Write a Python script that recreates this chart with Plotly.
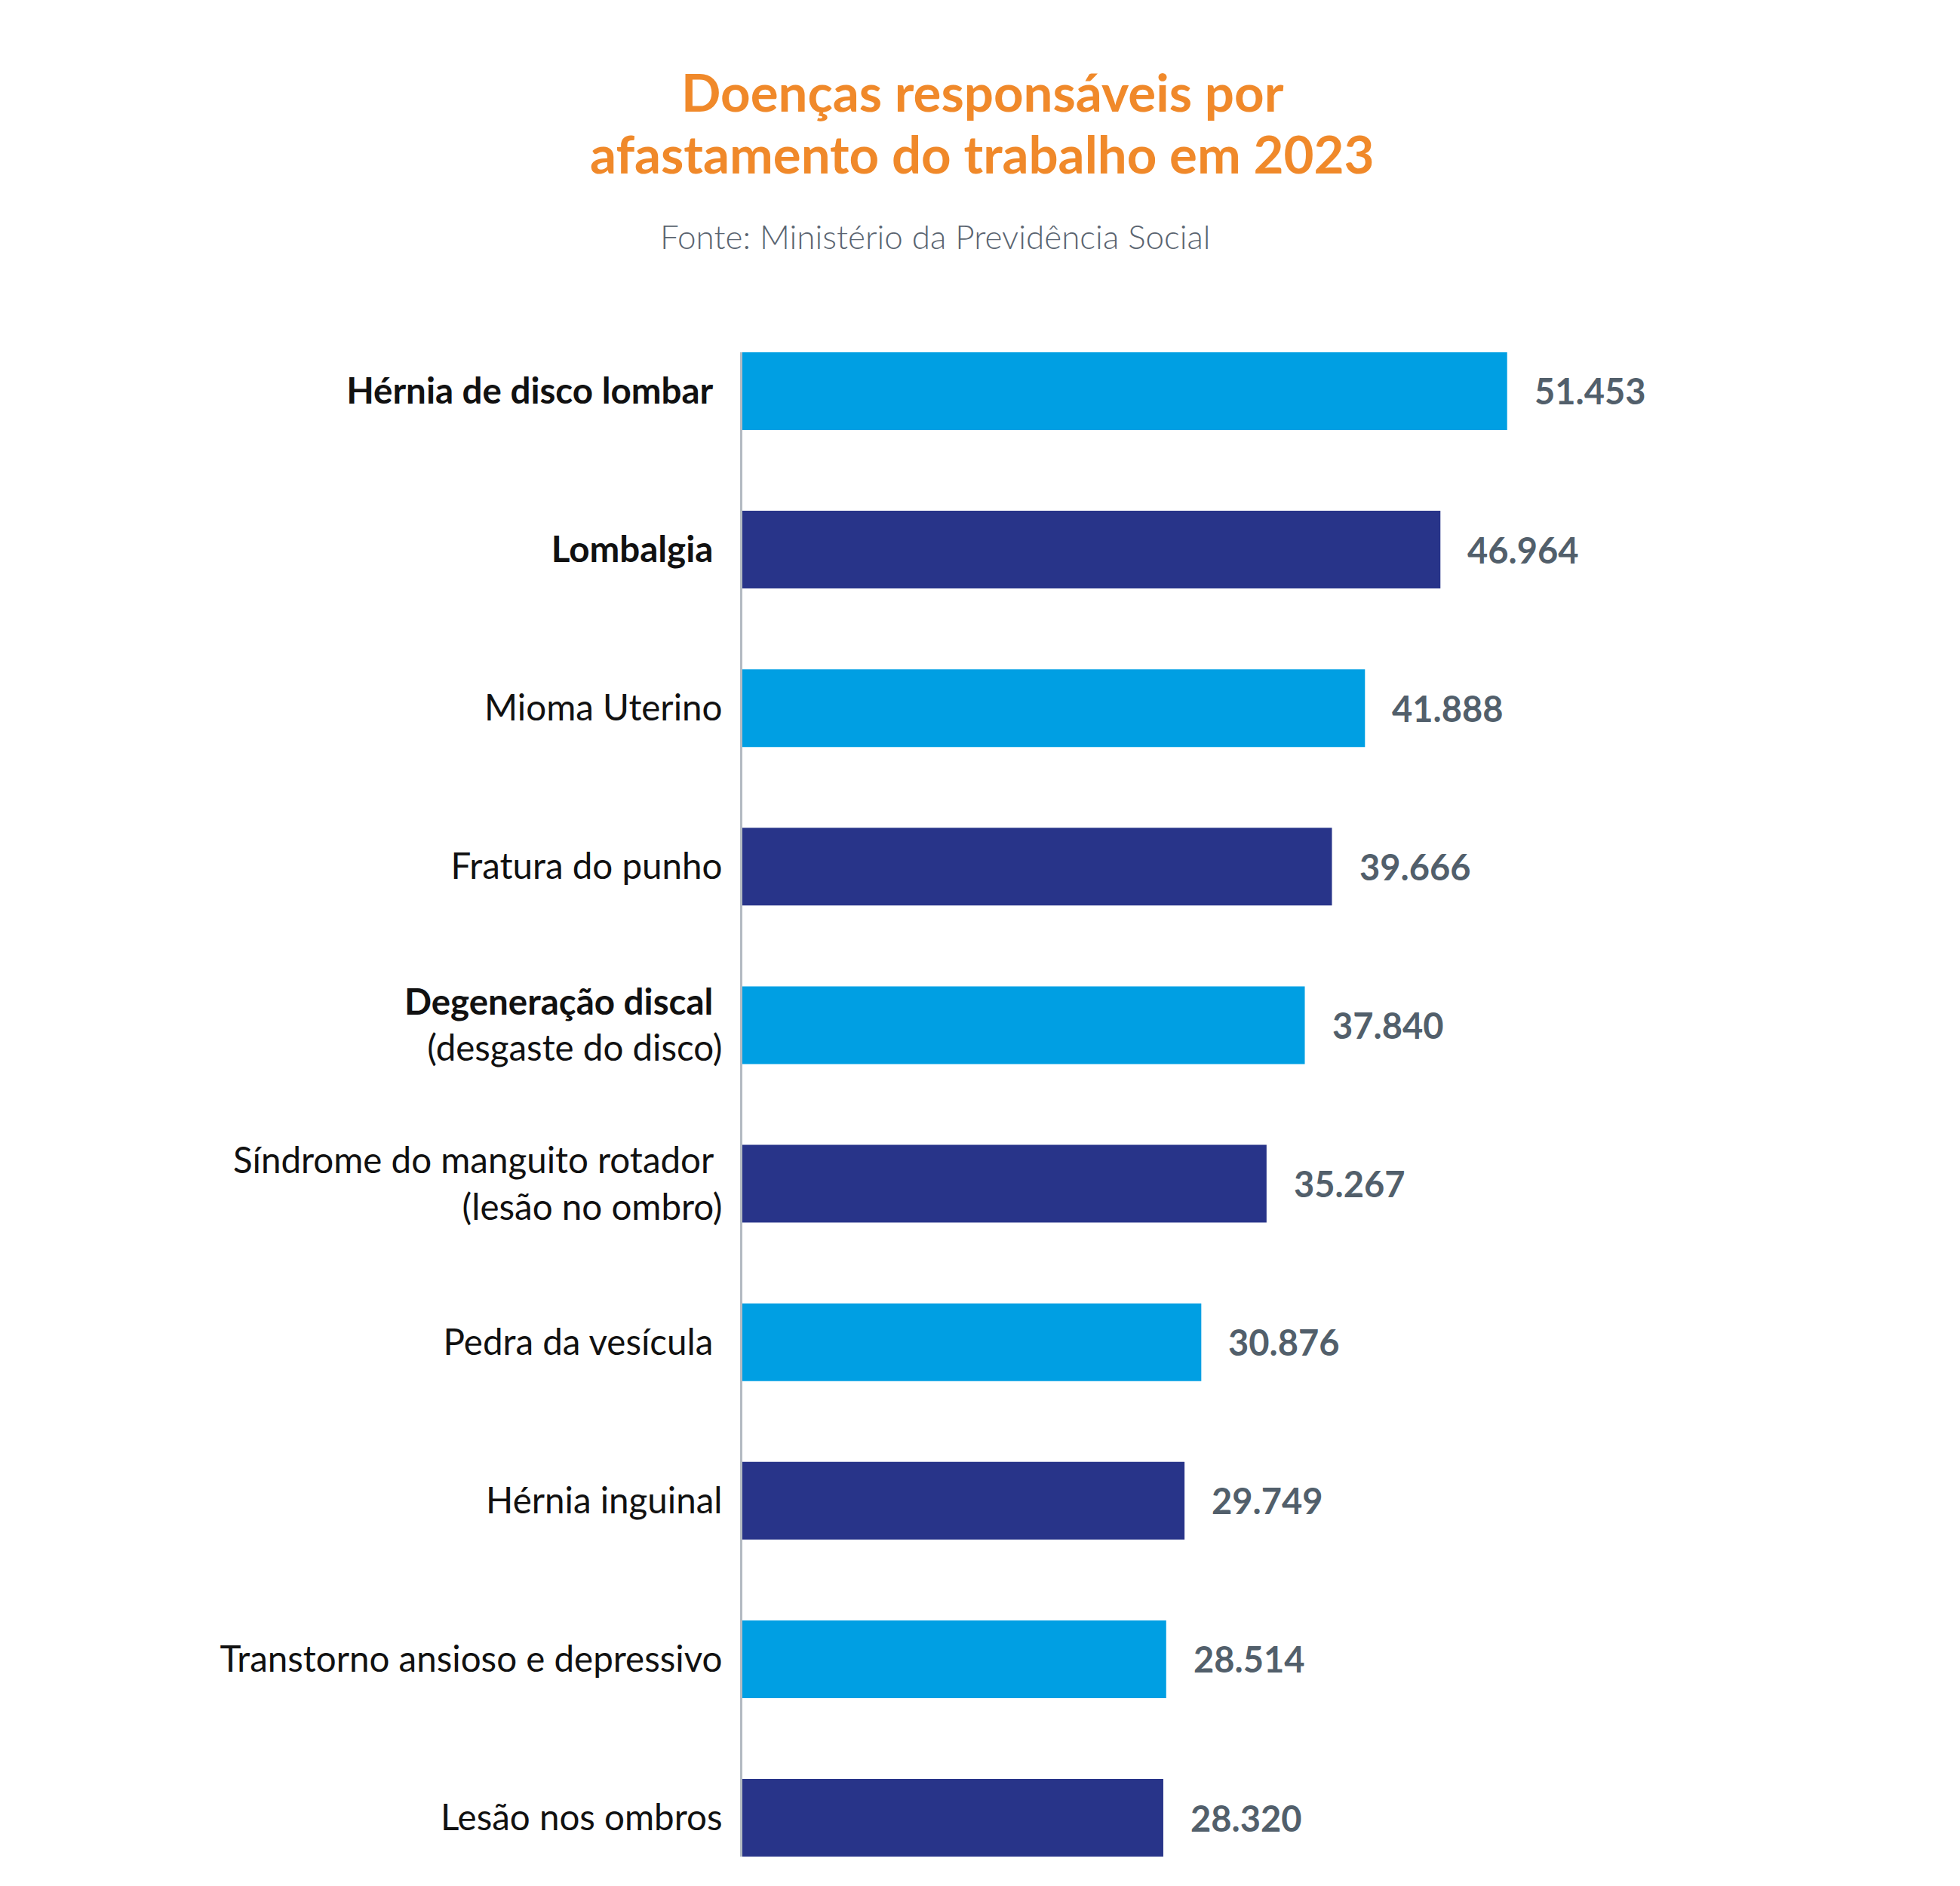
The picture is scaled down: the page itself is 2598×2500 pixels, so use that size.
import plotly.graph_objects as go

categories = [
    "<b>Hérnia de disco lombar</b>\u00a0",
    "<b>Lombalgia</b>\u00a0",
    "Mioma Uterino",
    "Fratura do punho",
    "<b>Degeneração discal</b>\u00a0<br>(desgaste do disco)",
    "Síndrome do manguito rotador\u00a0<br>(lesão no ombro)",
    "Pedra da vesícula\u00a0",
    "Hérnia inguinal",
    "Transtorno ansioso e depressivo",
    "Lesão nos ombros",
]
values = [51453, 46964, 41888, 39666, 37840, 35267, 30876, 29749, 28514, 28320]
bar_colors = ["#009FE3", "#283489"] * 5

title_lines = ["Doenças responsáveis por", "afastamento do trabalho em 2023"]
subtitle_text = "Fonte: Ministério da Previdência Social"

W, H = 2598, 2500
OFF = 8  # default page body margin
ML, MR, MT, MB = 984 - OFF, 432, 467 - OFF, 47
bargap = 0.51
half = (1 - bargap) / 2

ypos = list(range(len(categories)))

fig = go.Figure()
fig.add_trace(go.Bar(
    x=values, y=ypos, orientation="h",
    marker=dict(color=bar_colors, line=dict(width=0)),
    hoverinfo="skip",
))

def fmt(v):
    return f"{v:,}".replace(",", ".")

annotations = []
for yi, v in zip(ypos, values):
    annotations.append(dict(
        x=v, y=yi, xref="x", yref="y", text=fmt(v), showarrow=False,
        xanchor="left", yanchor="middle", xshift=34,
        font=dict(family="Lato", size=47, color="#525F6B", weight="bold"),
    ))

plot_h = H - MT - MB
plot_w = W - ML - MR

def ypaper(py):
    return 1 - (py - OFF - MT) / plot_h

def xpaper(px):
    return (px - OFF - ML) / plot_w

for line, py in zip(title_lines, [122, 204]):
    annotations.append(dict(
        x=xpaper(1302), y=ypaper(py), xref="paper", yref="paper",
        text=f"<b>{line}</b>", showarrow=False, xanchor="center", yanchor="middle",
        font=dict(family="Lato", size=69, color="#F0892A"),
    ))
annotations.append(dict(
    x=xpaper(1240), y=ypaper(313), xref="paper", yref="paper",
    text=subtitle_text, showarrow=False, xanchor="center", yanchor="middle",
    font=dict(family="Lato", size=44, color="#5A6470", weight=300),
))

fig.update_layout(
    width=W, height=H,
    margin=dict(l=ML, r=MR, t=MT, b=MB, pad=0),
    paper_bgcolor="white", plot_bgcolor="white",
    showlegend=False,
    bargap=bargap,
    annotations=annotations,
    xaxis=dict(range=[0, 60400], visible=False, fixedrange=True),
    yaxis=dict(
        range=[len(categories) - 1 + half, -half],
        tickmode="array", tickvals=ypos, ticktext=categories,
        showline=True, linecolor="#B3BAC2", linewidth=3,
        showgrid=False, zeroline=False, ticks="",
        ticklabelstandoff=14,
        tickfont=dict(family="Lato", size=47.5, color="#111111"),
        fixedrange=True,
    ),
)

fig.write_html("out.html")
